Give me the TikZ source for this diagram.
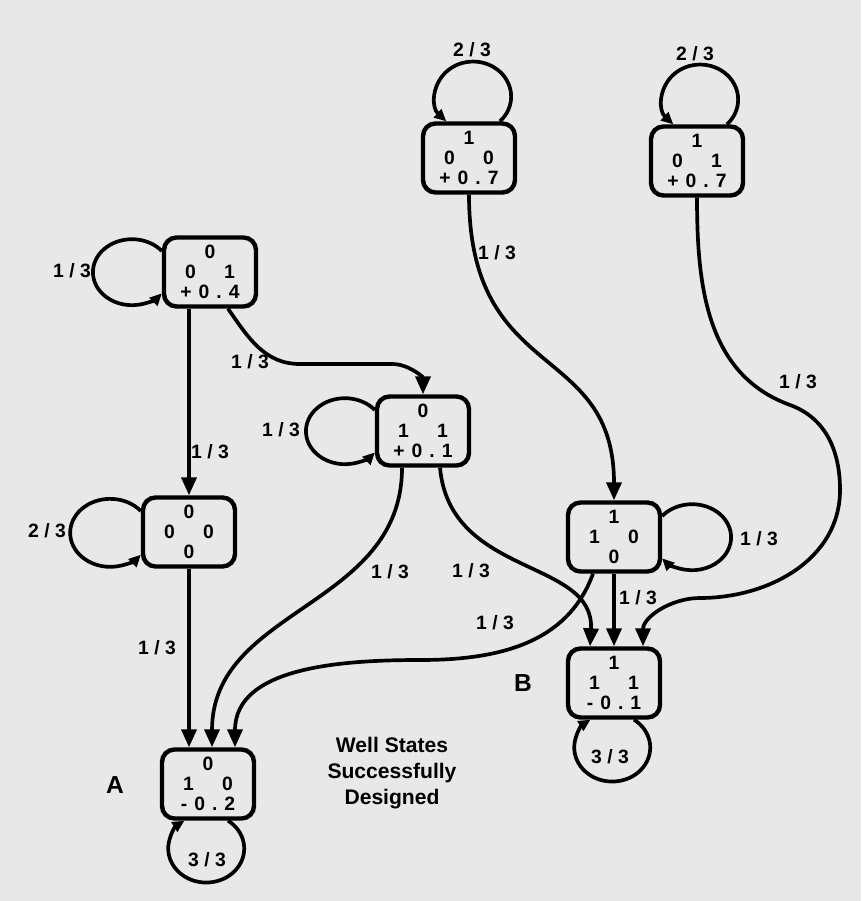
\documentclass[tikz,border=0pt]{standalone}
\usepackage{fontspec}
\setmainfont{Liberation Sans}
\usetikzlibrary{arrows.meta, calc}
\newcommand{\pair}[2]{#1\hspace{16pt}#2}
\newcommand{\energy}[3]{#1\hspace{4pt}#2\hspace{4pt}.\hspace{4pt}#3}

\begin{document}
\begin{tikzpicture}[x=0.02cm, y=0.02cm,
                    state/.style={draw, rounded corners=0.25cm, line width=2.5pt, minimum width=1.84cm, minimum height=1.38cm,
                                  inner sep=0pt, align=center, font=\fontsize{11}{11.5}\selectfont\bfseries},
                    edge/.style={line width=2.1pt, -{Triangle[length=0.36cm, width=0.3cm]}},
                    selfloop/.style={line width=2.1pt, -{Triangle[length=0.24cm, width=0.22cm]}},
                    prob/.style={font=\fontsize{11}{13}\selectfont\bfseries},
                    tag/.style={font=\fontsize{14}{16}\selectfont\bfseries}]

    \fill[black!9] (0,0) rectangle (861,-901);
    \useasboundingbox (0,0) rectangle (861,-901);

    \node[state] (s001) at (210,-272) {0\\\pair01\\\energy+04};
    \node[state] (s011) at (423,-431) {0\\\pair11\\\energy+01};
    \node[state] (s000) at (189,-532) {0\\\pair00\\0};
    \node[state] (s010) at (208,-784) {0\\\pair10\\\energy-02};
    \node[state] (s100) at (469,-158) {1\\\pair00\\\energy+07};
    \node[state] (s101) at (697,-161) {1\\\pair01\\\energy+07};
    \node[state] (s110) at (614,-537) {1\\\pair10\\0};
    \node[state] (s111) at (614,-683) {1\\\pair11\\\energy-01};

    \draw[selfloop] ($(s001.west)+(0,21)$) arc[start angle=40, end angle=320, x radius=39, y radius=33];
    \draw[selfloop] ($(s011.west)+(0,21)$) arc[start angle=40, end angle=320, x radius=39, y radius=33];
    \draw[selfloop] ($(s000.west)+(0,21)$) arc[start angle=40, end angle=320, x radius=40, y radius=34];
    \draw[selfloop] ($(s100.north)+(31,0)$) arc[start angle=-45, end angle=225, x radius=38, y radius=35];
    \draw[selfloop] ($(s101.north)+(30,0)$) arc[start angle=-45, end angle=225, x radius=38, y radius=35];
    \draw[selfloop] ($(s110.east)+(0,21)$) arc[start angle=140, end angle=-140, x radius=39, y radius=33];
    \draw[selfloop] ($(s111.south)+(20,0)$) arc[start angle=55, end angle=-235, x radius=38, y radius=34];
    \draw[selfloop] ($(s010.south)+(20,0)$) arc[start angle=55, end angle=-235, x radius=38, y radius=34];

    \node[prob] (p1) at (72,-271) {1 / 3};
    \node[prob] (p2) at (281,-430) {1 / 3};
    \node[prob] (p3) at (47,-531) {2 / 3};
    \node[prob] (p4) at (472,-50) {2 / 3};
    \node[prob] (p5) at (695,-54) {2 / 3};
    \node[prob] (p6) at (759,-539) {1 / 3};
    \node[prob] (p7) at (610,-757) {3 / 3};
    \node[prob] (p8) at (207,-860) {3 / 3};

    \draw[edge] (s001.south -| s000.north) -- (s000.north);
    \draw[edge] ($(s001.south)+(18,0)$) to[out=-55, in=180] (300,-364) -- (392,-364) to[out=0, in=90] (s011.north);
    \draw[edge] (s000.south) -- (s000.south |- s010.north);
    \draw[edge] ($(s011.south)+(-21,0)$) .. controls +(0,-140) and +(0,140) .. ($(s010.north)+(4,0)$);
    \draw[edge] ($(s011.south)+(17,0)$) .. controls +(10,-110) and +(5,88) .. ($(s111.north)+(-24,0)$);
    \draw[edge] ($(s110.south)+(-21,0)$) to[out=-110, in=0] (420,-660) to[out=180, in=90] ($(s010.north)+(27,0)$);
    \draw[edge] (s110.south) -- (s111.north);
    \draw[edge] (s100.south) .. controls +(0,-190) and +(0,160) .. (s110.north);
    \draw[edge] (s101.south) to[out=-90, in=160] (790,-405) to[out=-20, in=90] (840,-490)
                to[out=-90, in=0] (700,-598) to[out=180, in=90] ($(s111.north)+(29,0)$);

    \node[prob] (q1) at (210,-452) {1 / 3};
    \node[prob] (q2) at (250,-362) {1 / 3};
    \node[prob] (q3) at (157,-648) {1 / 3};
    \node[prob] (q4) at (390,-572) {1 / 3};
    \node[prob] (q5) at (471,-571) {1 / 3};
    \node[prob] (q6) at (495,-623) {1 / 3};
    \node[prob] (q7) at (638,-598) {1 / 3};
    \node[prob] (q8) at (497,-253) {1 / 3};
    \node[prob] (q9) at (798,-382) {1 / 3};

    \node[tag] (la) at (115,-785) {A};
    \node[tag] (lb) at (523,-683) {B};
    \node[align=center, font=\fontsize{12}{14.7}\selectfont\bfseries] (note) at (392,-773) {Well States\\Successfully\\Designed};
\end{tikzpicture}
\end{document}
